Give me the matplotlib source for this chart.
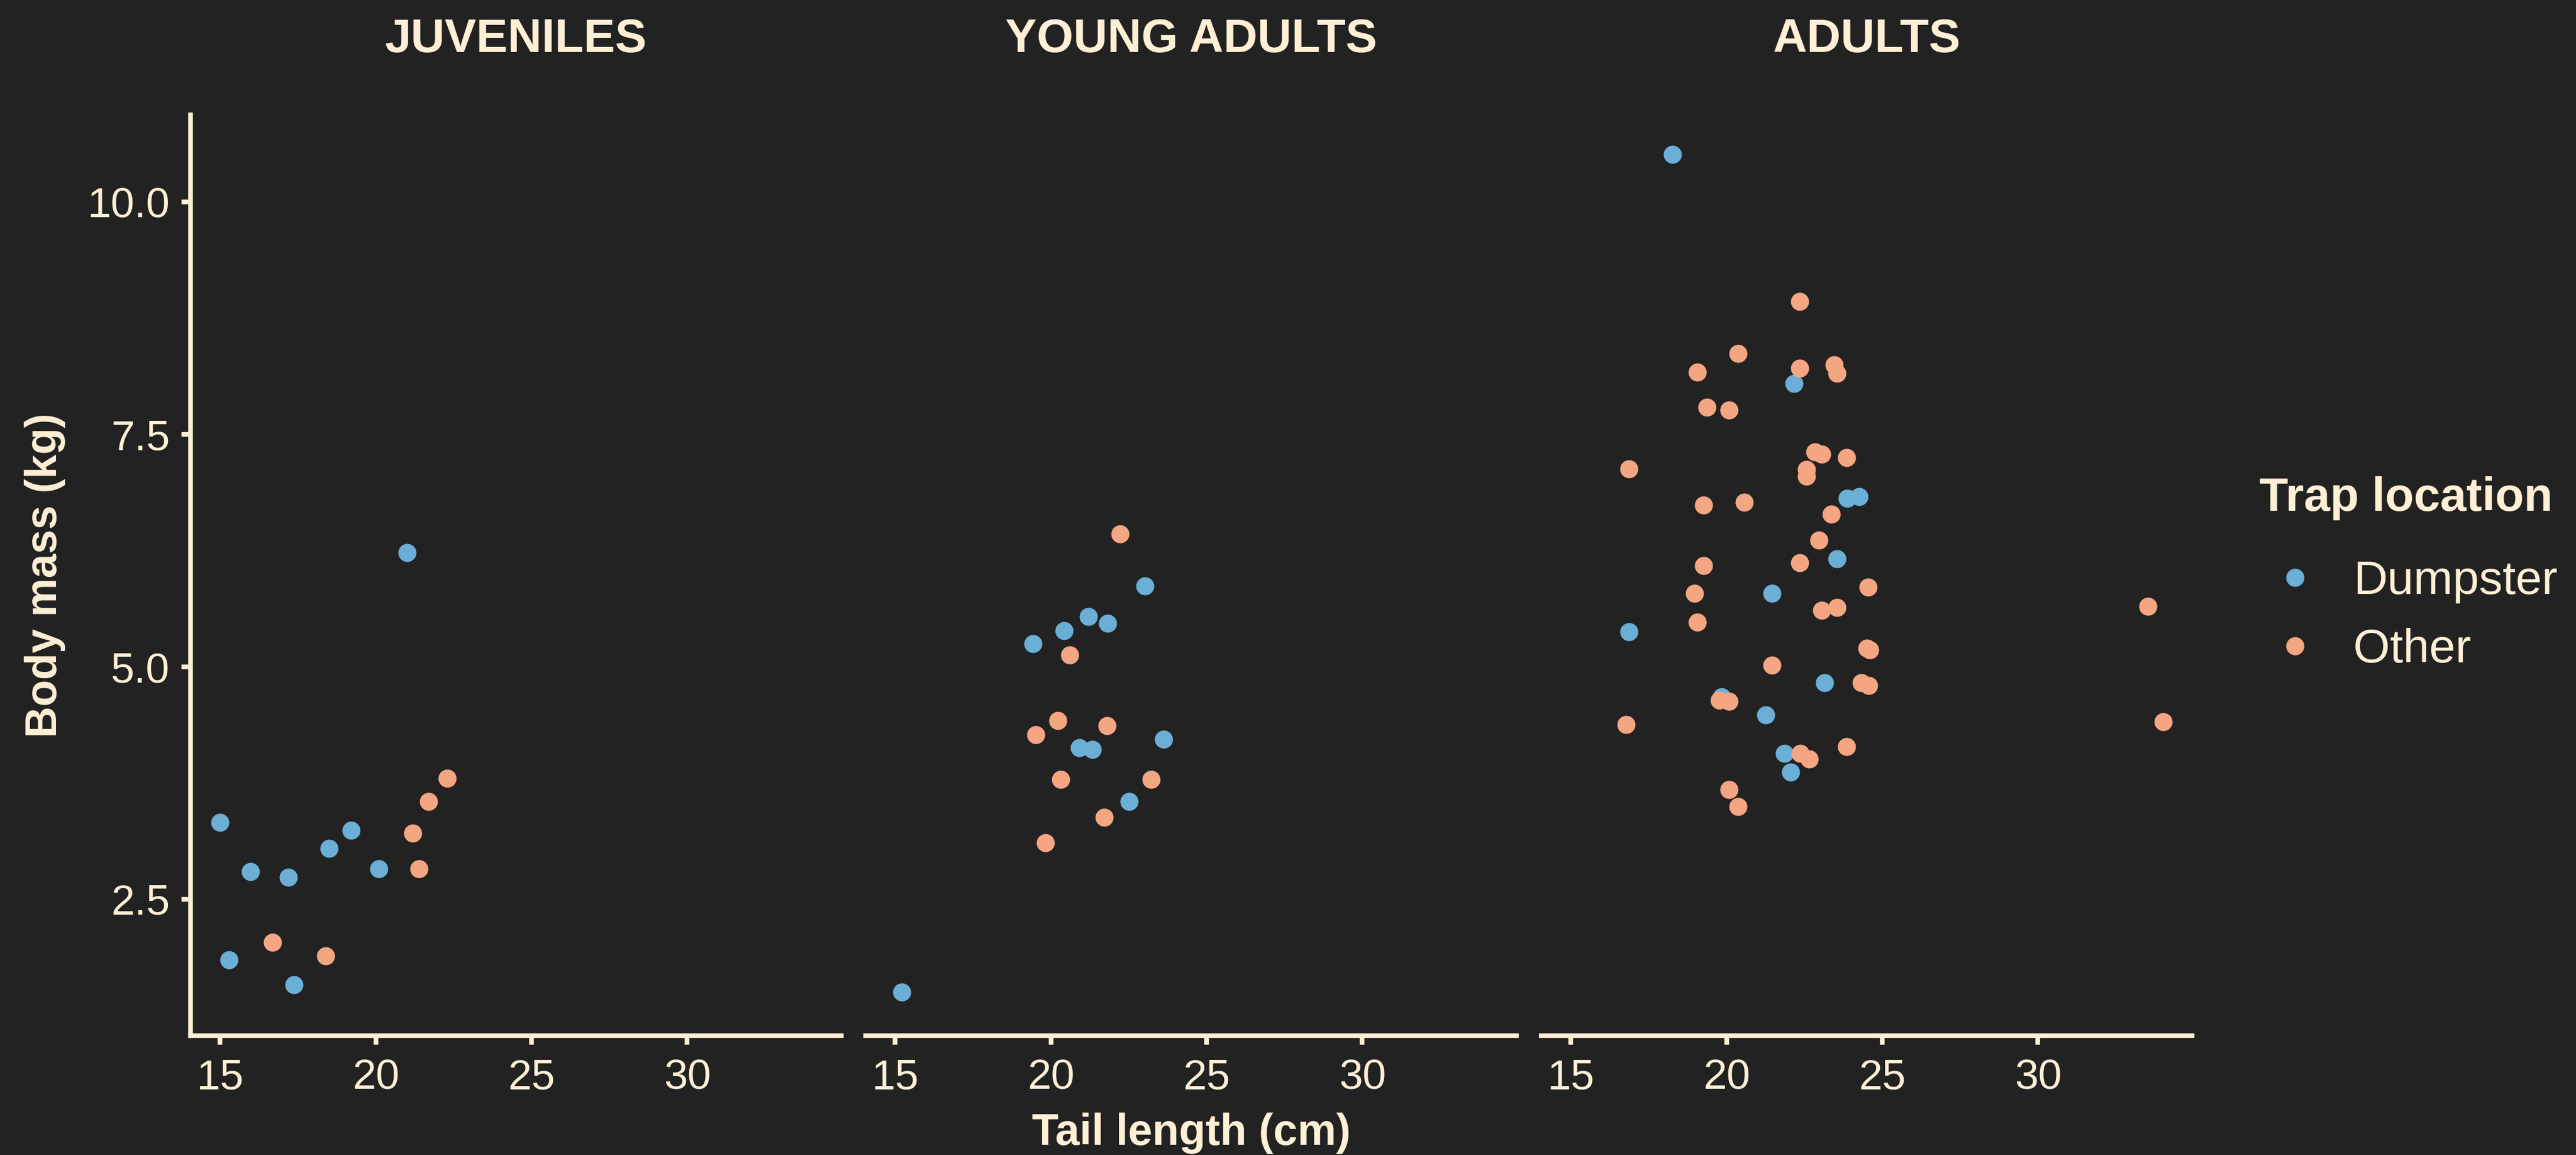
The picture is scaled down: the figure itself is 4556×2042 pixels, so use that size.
import matplotlib
matplotlib.use("Agg")
import matplotlib.pyplot as plt
from matplotlib.lines import Line2D

plt.rcParams["font.family"] = ["Liberation Sans", "DejaVu Sans"]

BG = "#222222"
FG = "#FFEFD5"
BLUE = "#6BAED6"
ORANGE = "#F4A582"

# tail length (cm) / body mass (kg)
juv_dump_x = [15.0, 15.98, 17.19, 18.49, 19.20, 20.10, 15.29, 17.38, 21.0]
juv_dump_y = [3.33, 2.80, 2.74, 3.05, 3.24, 2.83, 1.85, 1.58, 6.23]
juv_other_x = [22.29, 21.69, 21.19, 21.38, 16.69, 18.39]
juv_other_y = [3.80, 3.55, 3.21, 2.83, 2.04, 1.89]

young_dump_x = [23.02, 21.21, 21.83, 20.42, 19.43, 20.91, 21.33, 23.62, 22.51, 15.22]
young_dump_y = [5.87, 5.54, 5.47, 5.39, 5.25, 4.13, 4.11, 4.22, 3.55, 1.50]
young_other_x = [22.22, 20.61, 20.22, 19.52, 21.81, 20.31, 23.22, 21.72, 19.82]
young_other_y = [6.43, 5.13, 4.42, 4.27, 4.37, 3.79, 3.79, 3.38, 3.11]

adult_dump_x = [18.27, 22.16, 23.87, 24.26, 23.54, 21.46, 16.87, 23.15, 19.84,
                21.26, 21.86, 22.06]
adult_dump_y = [10.51, 8.05, 6.81, 6.83, 6.16, 5.79, 5.38, 4.83, 4.68,
                4.48, 4.07, 3.87]
adult_other_x = [22.34, 20.37, 19.07, 22.34, 23.45, 23.55, 19.37, 20.07, 16.87,
                 22.84, 23.06, 23.85, 22.57, 22.57, 19.26, 20.56, 23.36, 22.96,
                 19.26, 22.34, 24.54, 18.97, 33.53, 23.05, 23.55, 19.07, 24.60,
                 24.50, 21.46, 24.33, 24.57, 19.77, 20.07, 16.77, 34.03, 23.85,
                 22.36, 22.66, 20.07, 20.37]
adult_other_y = [8.93, 8.37, 8.17, 8.21, 8.25, 8.16, 7.79, 7.76, 7.13,
                 7.31, 7.29, 7.25, 7.12, 7.05, 6.74, 6.77, 6.64, 6.36,
                 6.09, 6.12, 5.86, 5.79, 5.65, 5.61, 5.64, 5.48, 5.18,
                 5.20, 5.02, 4.83, 4.80, 4.64, 4.63, 4.38, 4.41, 4.14,
                 4.07, 4.01, 3.68, 3.50]

panel_titles = ["JUVENILES", "YOUNG ADULTS", "ADULTS"]
x_ticks = [15, 20, 25, 30]
y_ticks = [2.5, 5.0, 7.5, 10.0]
y_tick_labels = ["2.5", "5.0", "7.5", "10.0"]
legend_labels = ["Dumpster", "Other"]

panels = [
    (juv_dump_x, juv_dump_y, juv_other_x, juv_other_y),
    (young_dump_x, young_dump_y, young_other_x, young_other_y),
    (adult_dump_x, adult_dump_y, adult_other_x, adult_other_y),
]

W, H = 4556, 2042
fig = plt.figure(figsize=(W / 300, H / 300), dpi=300, facecolor=BG)

lefts = [337, 1531, 2726]
ax_w = 1151
ax_top, ax_bottom = 203, 1831

for i, (dx, dy, ox, oy) in enumerate(panels):
    ax = fig.add_axes([lefts[i] / W, 1 - ax_bottom / H, ax_w / W, (ax_bottom - ax_top) / H])
    ax.set_facecolor(BG)
    ax.scatter(dx, dy, s=59, color=BLUE, linewidths=0, zorder=3)
    ax.scatter(ox, oy, s=59, color=ORANGE, linewidths=0, zorder=3)

    ax.set_xlim(14.05, 34.95)
    ax.set_ylim(1.034, 10.937)
    ax.set_xticks(x_ticks)
    ax.set_xticklabels([str(t) for t in x_ticks])
    ax.set_yticks(y_ticks)
    ax.set_yticklabels(y_tick_labels)

    for side in ["top", "right"]:
        ax.spines[side].set_visible(False)
    ax.spines["bottom"].set_color(FG)
    ax.spines["bottom"].set_linewidth(2.0)
    if i == 0:
        ax.spines["left"].set_color(FG)
        ax.spines["left"].set_linewidth(2.0)
        ax.tick_params(axis="y", colors=FG, labelsize=18, length=3.8, width=2.0, pad=5)
    else:
        ax.spines["left"].set_visible(False)
        ax.tick_params(axis="y", left=False, labelleft=False)
    ax.tick_params(axis="x", colors=FG, labelsize=18, length=3.8, width=2.0, pad=6)

    ax.text(0.5, 1 + 133 / (ax_bottom - ax_top), panel_titles[i], transform=ax.transAxes,
            ha="center", va="center", fontsize=20, fontweight="bold", color=FG)

fig.text(80 / W, 1 - 1017 / H, "Body mass (kg)", rotation=90, ha="center", va="center",
         fontsize=18.5, fontweight="bold", color=FG)
fig.text(2107 / W, 1 - 2003 / H, "Tail length (cm)", ha="center", va="center",
         fontsize=18.5, fontweight="bold", color=FG)

handles = [
    Line2D([], [], linestyle="none", marker="o", markersize=7.7, markeredgewidth=0,
           color=BLUE),
    Line2D([], [], linestyle="none", marker="o", markersize=7.7, markeredgewidth=0,
           color=ORANGE),
]
leg = fig.legend(handles, legend_labels, title="Trap location", loc="center left",
                 bbox_to_anchor=(3996 / W, 1 - 1015 / H), frameon=False,
                 fontsize=20, title_fontsize=20, handlelength=1.5, handletextpad=0.49,
                 labelspacing=0.52, borderpad=0, borderaxespad=0)
leg.get_title().set_fontweight("bold")
leg.get_title().set_color(FG)
for t in leg.get_texts():
    t.set_color(FG)
leg._legend_box.align = "left"
leg._legend_box.sep = 16.6  # extra room between title and keys

fig.savefig("out.png", dpi=300, facecolor=BG)
